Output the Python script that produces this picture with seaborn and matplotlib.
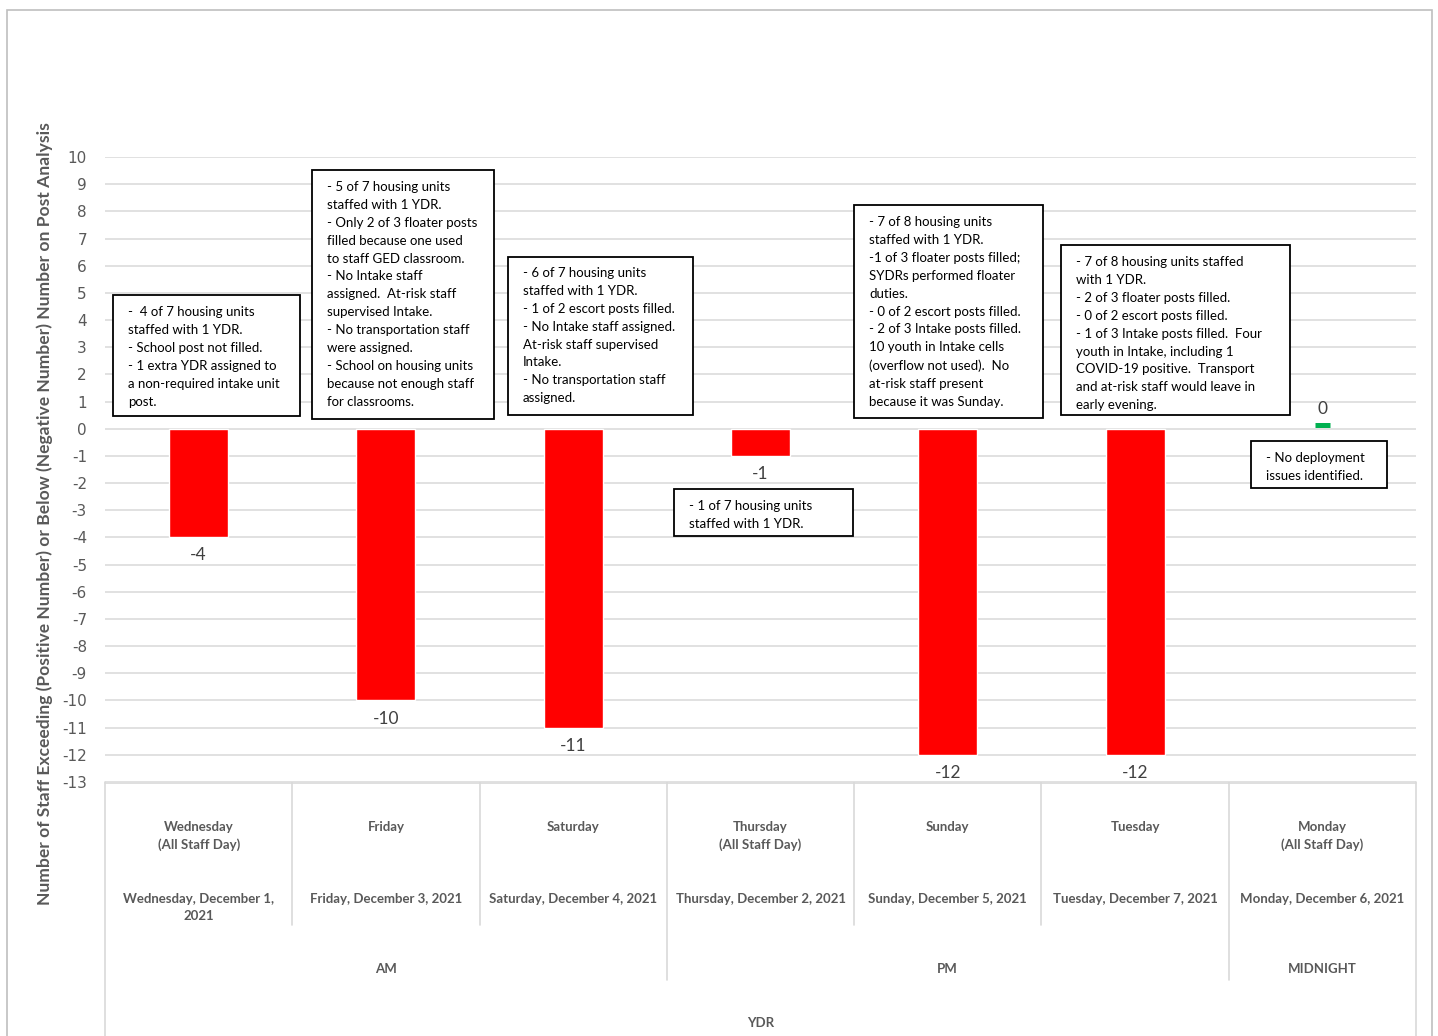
import matplotlib
matplotlib.use("Agg")
import matplotlib.pyplot as plt
from matplotlib.patches import Rectangle
import seaborn as sns
import pandas as pd

# ---------------- data ----------------
day_labels = ["Wednesday\n(All Staff Day)", "Friday", "Saturday", "Thursday\n(All Staff Day)",
              "Sunday", "Tuesday", "Monday\n(All Staff Day)"]
date_labels = ["Wednesday, December 1,\n2021", "Friday, December 3, 2021", "Saturday, December 4, 2021",
               "Thursday, December 2, 2021", "Sunday, December 5, 2021", "Tuesday, December 7, 2021",
               "Monday, December 6, 2021"]
shift_labels = ["AM", "AM", "AM", "PM", "PM", "PM", "MIDNIGHT"]
group_label = "YDR"
values = [-4, -10, -11, -1, -12, -12, 0]
status = ["below", "below", "below", "below", "below", "below", "met"]
notes = [
    "-  4 of 7 housing units\nstaffed with 1 YDR.\n- School post not filled.\n- 1 extra YDR assigned to\na non-required intake unit\npost.",
    "- 5 of 7 housing units\nstaffed with 1 YDR.\n- Only 2 of 3 floater posts\nfilled because one used\nto staff GED classroom.\n- No Intake staff\nassigned.  At-risk staff\nsupervised Intake.\n- No transportation staff\nwere assigned.\n- School on housing units\nbecause not enough staff\nfor classrooms.",
    "- 6 of 7 housing units\nstaffed with 1 YDR.\n- 1 of 2 escort posts filled.\n- No Intake staff assigned.\nAt-risk staff supervised\nIntake.\n- No transportation staff\nassigned.",
    "- 1 of 7 housing units\nstaffed with 1 YDR.",
    "- 7 of 8 housing units\nstaffed with 1 YDR.\n-1 of 3 floater posts filled;\nSYDRs performed floater\nduties.\n- 0 of 2 escort posts filled.\n- 2 of 3 Intake posts filled.\n10 youth in Intake cells\n(overflow not used).  No\nat-risk staff present\nbecause it was Sunday.",
    "- 7 of 8 housing units staffed\nwith 1 YDR.\n- 2 of 3 floater posts filled.\n- 0 of 2 escort posts filled.\n- 1 of 3 Intake posts filled.  Four\nyouth in Intake, including 1\nCOVID-19 positive.  Transport\nand at-risk staff would leave in\nearly evening.",
    "- No deployment\nissues identified.",
]
y_label = "Number of Staff Exceeding (Positive Number) or Below (Negative Number) Number on Post Analysis"

# layout of note boxes in pixels: (left, top, right, bottom, text_x, first_line_y)
note_boxes = [
    (113, 295, 300, 416, 128, 312),
    (312, 170, 494, 419, 327, 187),
    (508, 257, 693, 415, 523, 273),
    (674, 489, 853, 536, 689, 506),
    (854, 205, 1043, 418, 869, 222),
    (1061, 245, 1290, 415, 1076, 262),
    (1251, 441, 1387, 488, 1266, 458),
]

W, H = 1438, 1036
sns.set_theme(style="white")
plt.rcParams['font.family'] = ['Lato', 'DejaVu Sans']

df = pd.DataFrame({"date": date_labels, "value": values, "status": status})

fig = plt.figure(figsize=(W / 100, H / 100), dpi=100)
fig.patch.set_facecolor("white")

L, R, T, B = 105, 1416, 157, 782
ax = fig.add_axes([L / W, 1 - B / H, (R - L) / W, (B - T) / H])
sns.barplot(data=df, x="date", y="value", hue="status",
            palette={"below": "#FF0000", "met": "#00B050"},
            width=0.315, legend=False, ax=ax, saturation=1)
# make the zero bar visible as a thin green mark
for p in ax.patches:
    if abs(p.get_height()) < 1e-9:
        cx = p.get_x() + p.get_width() / 2
        p.set_width(0.082)
        p.set_x(cx - 0.041)
        p.set_edgecolor("#00B050")
        p.set_linewidth(3.6)
        p.set_y(0.14)

ax.set_xlim(-0.5, 6.5)
ax.set_ylim(-13, 10)
ax.set_yticks(range(-13, 11))
ax.set_yticklabels([str(v) for v in range(-13, 11)], fontfamily="DejaVu Sans",
                   fontsize=11, color="#595959")
ax.tick_params(axis="y", length=0, pad=13)
ax.set_xticks([])
ax.set_xlabel("")
ax.set_ylabel("")
ax.yaxis.grid(True, color="#d9d9d9", linewidth=1.1)
ax.set_axisbelow(True)
for s in ax.spines.values():
    s.set_visible(False)

# value labels
for i, v in enumerate(values):
    if v < 0:
        ax.annotate(str(v), (i, v), xytext=(0, -13), textcoords="offset points",
                    ha="center", va="center", fontsize=12.5, color="#404040")
    else:
        ax.annotate(str(v), (i, v), xytext=(0, 14), textcoords="offset points",
                    ha="center", va="center", fontsize=12.5, color="#404040")

fig.text(45 / W, 1 - 514 / H, y_label, rotation=90, ha="center", va="center",
         fontsize=12.6, fontweight="bold", color="#595959")

# category axis below
ax2 = fig.add_axes([L / W, 0, (R - L) / W, (H - B) / H])
ax2.set_xlim(-0.5, 6.5)
ax2.set_ylim(H, B)
ax2.axis("off")
lc = "#d9d9d9"
ax2.plot([-0.5, 6.5], [B + 1, B + 1], color=lc, lw=1.2, clip_on=False)
for i in range(7):
    ax2.text(i, 821, day_labels[i], ha="center", va="top", fontsize=9.5,
             fontweight="bold", color="#595959", linespacing=1.5)
    ax2.text(i, 893, date_labels[i], ha="center", va="top",
             fontsize=9.5, fontweight="bold", color="#595959", linespacing=1.5)
for i in range(6):
    x = i + 0.5
    if shift_labels[i] != shift_labels[i + 1]:
        ax2.plot([x, x], [B, 980], color=lc, lw=1.2)
    else:
        ax2.plot([x, x], [B, 925], color=lc, lw=1.2)
for x in (-0.5, 6.5):
    ax2.plot([x, x], [B, H], color=lc, lw=1.2, clip_on=False)
groups = []
for i, s in enumerate(shift_labels):
    if groups and groups[-1][0] == s:
        groups[-1][2] = i
    else:
        groups.append([s, i, i])
for s, a, b in groups:
    ax2.text((a + b) / 2, 969, s, ha="center", va="center", fontsize=9.5,
             fontweight="bold", color="#595959")
ax2.text(3, 1023, group_label, ha="center", va="center", fontsize=9.5,
         fontweight="bold", color="#595959")

# note boxes
for (l, t, r, b, tx, ty), note in zip(note_boxes, notes):
    fig.add_artist(Rectangle((l / W, 1 - b / H), (r - l) / W, (b - t) / H,
                             transform=fig.transFigure, facecolor="white",
                             edgecolor="black", linewidth=1.3, zorder=5))
    fig.text(tx / W, 1 - (ty - 6) / H, note, ha="left", va="top", fontsize=9.5,
             color="black", linespacing=1.59, zorder=6)

# outer chart border
fig.add_artist(Rectangle((7 / W, -0.01), (1432 - 7) / W, (H - 10) / H + 0.01,
                         transform=fig.transFigure, fill=False, edgecolor="#bfbfbf",
                         linewidth=1.2))

fig.savefig("out.png", dpi=100)
